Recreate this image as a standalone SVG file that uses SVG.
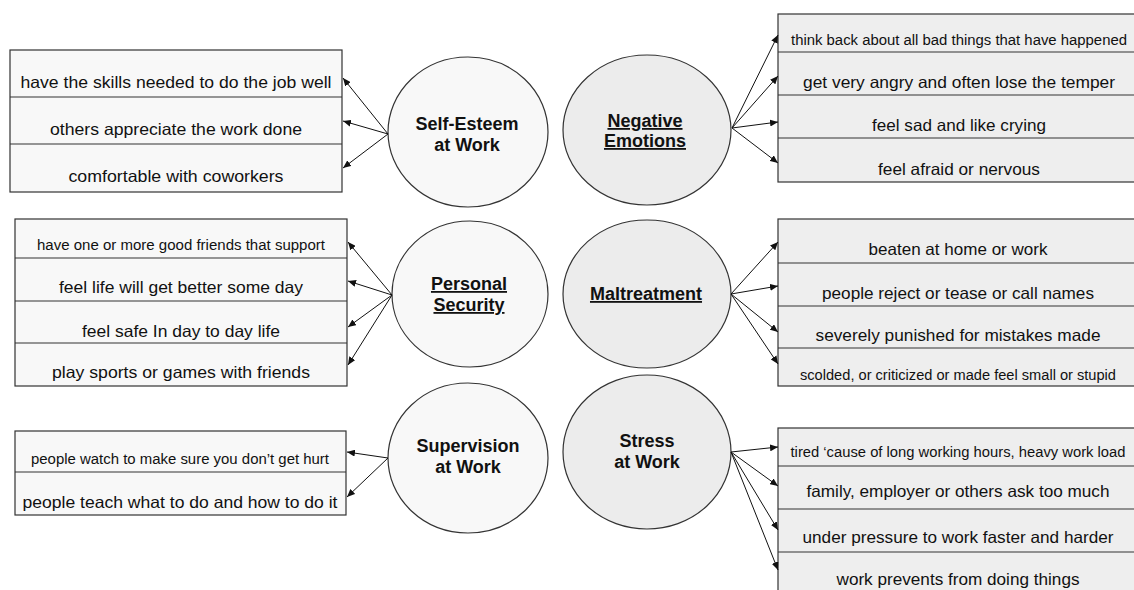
<svg xmlns="http://www.w3.org/2000/svg" width="1134" height="590" viewBox="0 0 1134 590">
<style>
text{font-family:"Liberation Sans",Arial,sans-serif;fill:#111;text-anchor:middle}
.t{font-size:16.5px}
.s{font-size:14px}
.h{font-size:18px;font-weight:bold}
.u{text-decoration:underline}
.bl{fill:#f8f8f8;stroke:#333;stroke-width:1.2}
.br{fill:#eeeeee;stroke:#333;stroke-width:1.2}
.cl{fill:#f8f8f8;stroke:#333;stroke-width:1.2}
.cr{fill:#ececec;stroke:#333;stroke-width:1.2}
.d{stroke:#333;stroke-width:1.2}
.c{stroke:#111;stroke-width:1;fill:none;marker-end:url(#ah)}
</style>
<defs>
<marker id="ah" markerUnits="userSpaceOnUse" markerWidth="9" markerHeight="7" refX="8" refY="3.5" orient="auto">
<path d="M0,0 L8,3.5 L0,7 z" fill="#111"/>
</marker>
</defs>

<g id="self-esteem-items">
<rect class="bl" x="10" y="50" width="332" height="142"/>
<line class="d" x1="10" y1="97" x2="342" y2="97"/>
<line class="d" x1="10" y1="144" x2="342" y2="144"/>
<text class="t" x="176" y="88" textLength="311" lengthAdjust="spacingAndGlyphs">have the skills needed to do the job well</text>
<text class="t" x="176" y="135" textLength="252" lengthAdjust="spacingAndGlyphs">others appreciate the work done</text>
<text class="t" x="176" y="182" textLength="215" lengthAdjust="spacingAndGlyphs">comfortable with coworkers</text>
</g>

<g id="security-items">
<rect class="bl" x="15" y="219" width="332" height="167"/>
<line class="d" x1="15" y1="258" x2="347" y2="258"/>
<line class="d" x1="15" y1="301" x2="347" y2="301"/>
<line class="d" x1="15" y1="343" x2="347" y2="343"/>
<text class="s" x="181" y="250" textLength="288" lengthAdjust="spacingAndGlyphs">have one or more good friends that support</text>
<text class="t" x="181" y="293" textLength="244" lengthAdjust="spacingAndGlyphs">feel life will get better some day</text>
<text class="t" x="181" y="337" textLength="198" lengthAdjust="spacingAndGlyphs">feel safe In day to day life</text>
<text class="t" x="181" y="378" textLength="258" lengthAdjust="spacingAndGlyphs">play sports or games with friends</text>
</g>

<g id="supervision-items">
<rect class="bl" x="15" y="431" width="331" height="84"/>
<line class="d" x1="15" y1="472" x2="346" y2="472"/>
<text class="s" x="180" y="464" textLength="298" lengthAdjust="spacingAndGlyphs">people watch to make sure you don’t get hurt</text>
<text class="t" x="180" y="508" textLength="315" lengthAdjust="spacingAndGlyphs">people teach what to do and how to do it</text>
</g>

<g id="negative-items">
<rect class="br" x="778" y="14" width="380" height="168"/>
<line class="d" x1="778" y1="52" x2="1158" y2="52"/>
<line class="d" x1="778" y1="95" x2="1158" y2="95"/>
<line class="d" x1="778" y1="138" x2="1158" y2="138"/>
<text class="s" x="959" y="45" textLength="336" lengthAdjust="spacingAndGlyphs">think back about all bad things that have happened</text>
<text class="t" x="959" y="88" textLength="312" lengthAdjust="spacingAndGlyphs">get very angry and often lose the temper</text>
<text class="t" x="959" y="131" textLength="174" lengthAdjust="spacingAndGlyphs">feel sad and like crying</text>
<text class="t" x="959" y="175" textLength="162" lengthAdjust="spacingAndGlyphs">feel afraid or nervous</text>
</g>

<g id="maltreatment-items">
<rect class="br" x="778" y="219" width="380" height="167"/>
<line class="d" x1="778" y1="263" x2="1158" y2="263"/>
<line class="d" x1="778" y1="306" x2="1158" y2="306"/>
<line class="d" x1="778" y1="348" x2="1158" y2="348"/>
<text class="t" x="958" y="255" textLength="179" lengthAdjust="spacingAndGlyphs">beaten at home or work</text>
<text class="t" x="958" y="299" textLength="272" lengthAdjust="spacingAndGlyphs">people reject or tease or call names</text>
<text class="t" x="958" y="341" textLength="285" lengthAdjust="spacingAndGlyphs">severely punished for mistakes made</text>
<text class="s" x="958" y="380" textLength="316" lengthAdjust="spacingAndGlyphs">scolded, or criticized or made feel small or stupid</text>
</g>

<g id="stress-items">
<rect class="br" x="778" y="428" width="380" height="175"/>
<line class="d" x1="778" y1="466" x2="1158" y2="466"/>
<line class="d" x1="778" y1="509" x2="1158" y2="509"/>
<line class="d" x1="778" y1="552" x2="1158" y2="552"/>
<text class="s" x="958" y="457" textLength="335" lengthAdjust="spacingAndGlyphs">tired ‘cause of long working hours, heavy work load</text>
<text class="t" x="958" y="497" textLength="303" lengthAdjust="spacingAndGlyphs">family, employer or others ask too much</text>
<text class="t" x="958" y="543" textLength="311" lengthAdjust="spacingAndGlyphs">under pressure to work faster and harder</text>
<text class="t" x="958" y="585" textLength="243" lengthAdjust="spacingAndGlyphs">work prevents from doing things</text>
</g>

<g id="self-esteem">
<ellipse class="cl" cx="468" cy="132" rx="80" ry="75"/>
<text class="h" x="467" y="130">Self-Esteem</text>
<text class="h" x="467" y="151">at Work</text>
</g>

<g id="personal-security">
<ellipse class="cl" cx="470" cy="294" rx="78" ry="73"/>
<text class="h u" x="469" y="290">Personal</text>
<text class="h u" x="469" y="311">Security</text>
</g>

<g id="supervision">
<ellipse class="cl" cx="468" cy="458" rx="80" ry="75"/>
<text class="h" x="468" y="452">Supervision</text>
<text class="h" x="468" y="473">at Work</text>
</g>

<g id="negative-emotions">
<ellipse class="cr" cx="647" cy="130" rx="84" ry="75"/>
<text class="h u" x="645" y="127">Negative</text>
<text class="h u" x="645" y="147">Emotions</text>
</g>

<g id="maltreatment">
<ellipse class="cr" cx="647" cy="294" rx="84" ry="74"/>
<text class="h u" x="646" y="300">Maltreatment</text>
</g>

<g id="stress">
<ellipse class="cr" cx="647" cy="452" rx="84" ry="77"/>
<text class="h" x="647" y="447">Stress</text>
<text class="h" x="647" y="468">at Work</text>
</g>

<g id="connectors">
<line class="c" x1="388" y1="134" x2="343" y2="78"/>
<line class="c" x1="388" y1="134" x2="343" y2="121"/>
<line class="c" x1="388" y1="134" x2="343" y2="168"/>
<line class="c" x1="392" y1="295" x2="348" y2="242"/>
<line class="c" x1="392" y1="295" x2="348" y2="281"/>
<line class="c" x1="392" y1="295" x2="348" y2="327"/>
<line class="c" x1="392" y1="295" x2="348" y2="365"/>
<line class="c" x1="388" y1="458" x2="347" y2="452"/>
<line class="c" x1="388" y1="458" x2="347" y2="497"/>
<line class="c" x1="732" y1="128" x2="778" y2="35"/>
<line class="c" x1="732" y1="128" x2="778" y2="76"/>
<line class="c" x1="732" y1="128" x2="778" y2="122"/>
<line class="c" x1="732" y1="128" x2="778" y2="163"/>
<line class="c" x1="731" y1="294" x2="778" y2="242"/>
<line class="c" x1="731" y1="294" x2="778" y2="286"/>
<line class="c" x1="731" y1="294" x2="778" y2="332"/>
<line class="c" x1="731" y1="294" x2="778" y2="364"/>
<line class="c" x1="731" y1="452" x2="778" y2="447"/>
<line class="c" x1="731" y1="452" x2="778" y2="486"/>
<line class="c" x1="731" y1="452" x2="778" y2="530"/>
<line class="c" x1="731" y1="452" x2="778" y2="570"/>
</g>
</svg>
